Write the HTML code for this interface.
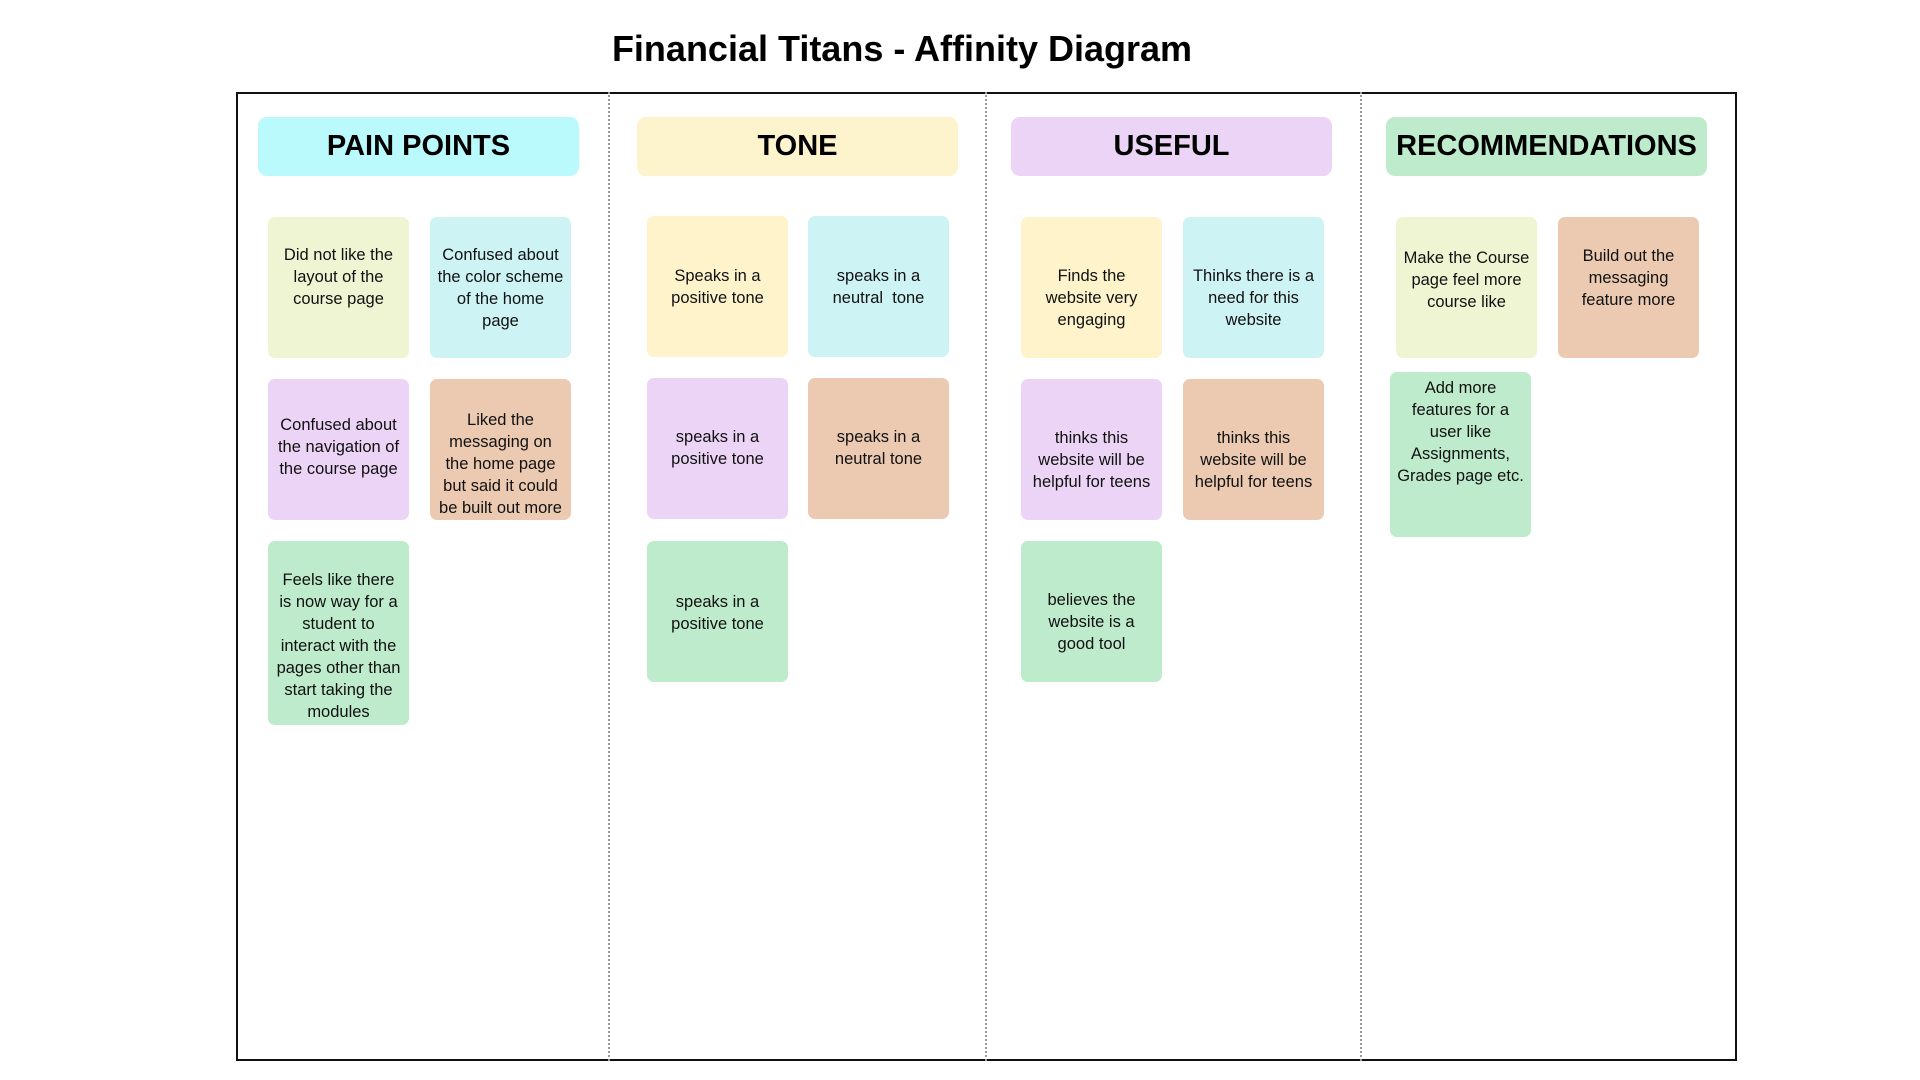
<!DOCTYPE html>
<html><head><meta charset="utf-8"><style>
*{margin:0;padding:0;box-sizing:border-box}
body{width:1920px;height:1080px;background:#fff;position:relative;overflow:hidden;font-family:"Liberation Sans","DejaVu Sans",sans-serif;color:#111}
.t{position:absolute;left:0;width:1804px;text-align:center;top:28px;font-size:36px;font-weight:bold;color:#000}
.frame{position:absolute;left:236px;top:92px;width:1501px;height:969px;border:2.5px solid #111}
.div{position:absolute;top:92px;height:969px;border-left:2.5px dotted #999}
.h{position:absolute;top:117px;height:59px;width:321px;border-radius:9px;font-weight:bold;font-size:29px;text-align:center;line-height:59px;color:#000}
.s{position:absolute;width:141px;height:141px;border-radius:7px}
.s span{position:absolute;left:-4px;right:-4px;text-align:center;font-size:16.5px;line-height:22px;white-space:nowrap}
</style></head><body>
<div class="t">Financial Titans - Affinity Diagram</div>
<div class="frame"></div>
<div class="div" style="left:608px"></div>
<div class="div" style="left:985px"></div>
<div class="div" style="left:1360px"></div>
<div class="h" style="left:258px;background:#bbfafc">PAIN POINTS</div>
<div class="h" style="left:637px;background:#fdf3cd">TONE</div>
<div class="h" style="left:1011px;background:#ecd4f6">USEFUL</div>
<div class="h" style="left:1386px;background:#bdebcb">RECOMMENDATIONS</div>

<div class="s" style="left:268px;top:217px;background:#eff5d2"><span style="top:27px">Did not like the<br>layout of the<br>course page</span></div>
<div class="s" style="left:430px;top:217px;background:#cdf3f4"><span style="top:27px">Confused about<br>the color scheme<br>of the home<br>page</span></div>
<div class="s" style="left:268px;top:379px;background:#ecd4f6"><span style="top:35px">Confused about<br>the navigation of<br>the course page</span></div>
<div class="s" style="left:430px;top:379px;background:#ebcab1"><span style="top:30px">Liked the<br>messaging on<br>the home page<br>but said it could<br>be built out more</span></div>
<div class="s" style="left:268px;top:541px;height:184px;background:#bdebcb"><span style="top:28px">Feels like there<br>is now way for a<br>student to<br>interact with the<br>pages other than<br>start taking the<br>modules</span></div>

<div class="s" style="left:647px;top:216px;background:#fef3cb"><span style="top:49px">Speaks in a<br>positive tone</span></div>
<div class="s" style="left:808px;top:216px;background:#cdf3f4"><span style="top:49px">speaks in a<br>neutral&nbsp; tone</span></div>
<div class="s" style="left:647px;top:378px;background:#ecd4f6"><span style="top:48px">speaks in a<br>positive tone</span></div>
<div class="s" style="left:808px;top:378px;background:#ebcab1"><span style="top:48px">speaks in a<br>neutral tone</span></div>
<div class="s" style="left:647px;top:541px;background:#bdebcb"><span style="top:50px">speaks in a<br>positive tone</span></div>

<div class="s" style="left:1021px;top:217px;background:#fef3cb"><span style="top:48px">Finds the<br>website very<br>engaging</span></div>
<div class="s" style="left:1183px;top:217px;background:#cdf3f4"><span style="top:48px">Thinks there is a<br>need for this<br>website</span></div>
<div class="s" style="left:1021px;top:379px;background:#ecd4f6"><span style="top:48px">thinks this<br>website will be<br>helpful for teens</span></div>
<div class="s" style="left:1183px;top:379px;background:#ebcab1"><span style="top:48px">thinks this<br>website will be<br>helpful for teens</span></div>
<div class="s" style="left:1021px;top:541px;background:#bdebcb"><span style="top:48px">believes the<br>website is a<br>good tool</span></div>

<div class="s" style="left:1396px;top:217px;background:#eff5d2"><span style="top:30px">Make the Course<br>page feel more<br>course like</span></div>
<div class="s" style="left:1558px;top:217px;background:#ebcab1"><span style="top:28px">Build out the<br>messaging<br>feature more</span></div>
<div class="s" style="left:1390px;top:372px;height:165px;background:#bdebcb"><span style="top:5px">Add more<br>features for a<br>user like<br>Assignments,<br>Grades page etc.</span></div>
</body></html>
